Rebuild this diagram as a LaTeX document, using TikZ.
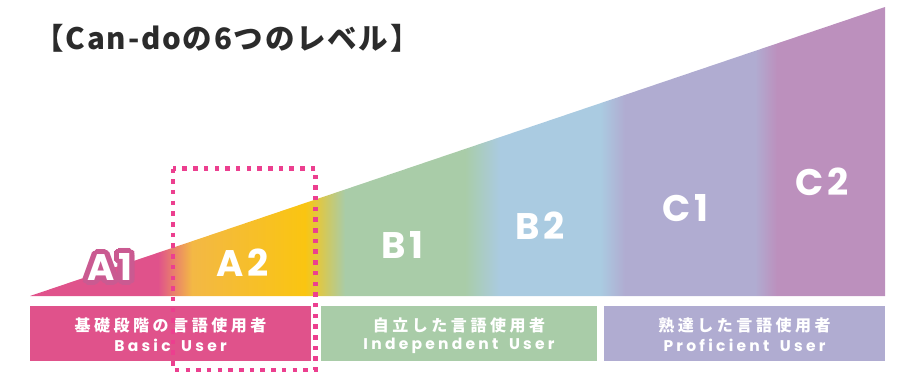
\documentclass[tikz,border=0pt]{standalone}
\usepackage{fontspec}
\newfontfamily\jpfont[LetterSpace=6]{Noto Sans CJK JP}
\newfontfamily\jpbarfont[LetterSpace=22]{Noto Sans CJK JP}
\newfontfamily\enbarfont[LetterSpace=21]{Poppins}
\newfontfamily\lvlfont[LetterSpace=10]{Poppins}
\definecolor{apink}{HTML}{E0528B}
\definecolor{aorange}{HTML}{F3B845}
\definecolor{ayellow}{HTML}{FAC511}
\definecolor{bgreen}{HTML}{A9CCA8}
\definecolor{bblue}{HTML}{AACBE1}
\definecolor{clav}{HTML}{B0ACD1}
\definecolor{cmauve}{HTML}{BC90BD}
\definecolor{aoutline}{HTML}{CA5A91}
\definecolor{dotpink}{HTML}{EC3F8F}
\definecolor{titlegray}{HTML}{2B2B2B}
\begin{document}
\begin{tikzpicture}[x = 1pt, y = -1pt,
        lvl/.style = {text = white, inner sep = 0pt, font = \lvlfont\bfseries\fontsize{37}{37}\selectfont},
        halo/.style = {lvl, text = aoutline},
        barjp/.style = {text = white, inner sep = 0pt, font = \jpbarfont\bfseries\fontsize{16}{16}\selectfont},
        baren/.style = {text = white, inner sep = 0pt, font = \enbarfont\bfseries\fontsize{15.5}{15.5}\selectfont}]
            \useasboundingbox (0, 0) rectangle (899, 372);
            \node [anchor = west, text = titlegray, font = \jpfont\bfseries\fontsize{29.5}{29.5}\selectfont] (title) at (31, 38) {【Can-doの6つのレベル】};
            % colour bands
            \begin{scope}
                \clip (30, 296) -- (885, 296) -- (885, 7) -- cycle;
                \fill [apink] (30, 0) rectangle (158, 300);
                \shade [left color = apink, right color = aorange] (158, 0) rectangle (192, 300);
                \shade [left color = aorange, right color = ayellow] (192, 0) rectangle (305, 300);
                \shade [left color = ayellow, right color = bgreen] (305, 0) rectangle (345, 300);
                \fill [bgreen] (345, 0) rectangle (465, 300);
                \shade [left color = bgreen, right color = bblue] (465, 0) rectangle (500, 300);
                \fill [bblue] (500, 0) rectangle (600, 300);
                \shade [left color = bblue, right color = clav] (600, 0) rectangle (625, 300);
                \fill [clav] (625, 0) rectangle (755, 300);
                \shade [left color = clav, right color = cmauve] (755, 0) rectangle (777, 300);
                \fill [cmauve] (777, 0) rectangle (890, 300);
            \end{scope}
            \fill [apink] (30, 306) rectangle (311, 361);
            \fill [bgreen] (321, 306) rectangle (597, 361);
            \fill [clav] (604, 306) rectangle (885, 361);
            \node [barjp] (basicjp) at (170.5, 325.5) {基礎段階の言語使用者};
            \node [baren] (basicen) at (170.5, 345.5) {Basic\hspace{4pt} User};
            \node [barjp] (indepjp) at (459, 325.5) {自立した言語使用者};
            \node [baren] (indepen) at (459, 345.5) {Independent\hspace{4pt} User};
            \node [barjp] (profjp) at (744.5, 325.5) {熟達した言語使用者};
            \node [baren] (profen) at (744.5, 345.5) {Proficient\hspace{4pt} User};
            % levels
            \foreach \a in {0, 20, ..., 340}
                \node [halo, xshift = {5*cos(\a)}, yshift = {5*sin(\a)}] (a1halo\a) at (110, 267) {A1};
            \node [lvl] (a1) at (110, 267) {A1};
            \node [lvl] (a2) at (243, 263) {A2};
            \node [lvl] (b1) at (402, 245) {B1};
            \node [lvl] (b2) at (540, 226) {B2};
            \node [lvl] (c1) at (685, 208) {C1};
            \node [lvl] (c2) at (822, 182) {C2};
            \draw [dotpink, line width = 4.5pt, dash pattern = on 4.5pt off 6.2pt] (173, 168.5) rectangle (315.5, 370);
        \end{tikzpicture}
\end{document}
